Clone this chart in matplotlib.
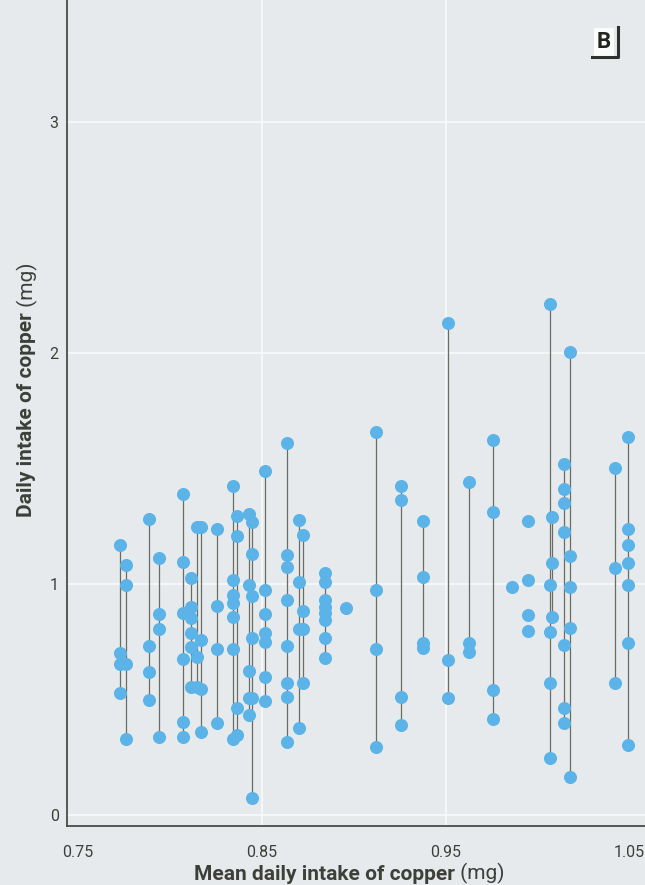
import matplotlib
matplotlib.use("Agg")
import matplotlib.pyplot as plt
from matplotlib.lines import Line2D

plt.rcParams['font.family'] = ['Roboto', 'DejaVu Sans']

# Mean daily copper intake per individual (mg)
mean_intake = [
    0.7729, 0.7761, 0.7886, 0.7941, 0.8071, 0.8115, 0.8147, 0.8169, 0.8256,
    0.8343, 0.8365, 0.8430, 0.8447, 0.8517, 0.8637, 0.8702, 0.8724, 0.8844,
    0.8958, 0.9121, 0.9257, 0.9377, 0.9513, 0.9627, 0.9758, 0.9861,
    0.9948, 0.9948, 0.9948, 0.9948,
    1.0068, 1.0079, 1.0144, 1.0177, 1.0422, 1.0492,
]

# Single-day copper intakes for each individual (mg)
daily_intake = [
    [1.169, 0.701, 0.654, 0.528],
    [1.082, 0.996, 0.654, 0.329],
    [1.281, 0.732, 0.619, 0.498],
    [1.113, 0.870, 0.805, 0.338],
    [1.390, 1.095, 0.874, 0.675, 0.403, 0.338],
    [1.026, 0.900, 0.853, 0.788, 0.727, 0.554],
    [1.247, 0.684, 0.554],
    [1.247, 0.758, 0.545, 0.359],
    [1.238, 0.905, 0.719, 0.398],
    [1.424, 1.017, 0.952, 0.918, 0.857, 0.719, 0.329],
    [1.294, 1.208, 0.463, 0.346],
    [1.303, 0.996, 0.623, 0.506, 0.433],
    [1.268, 1.130, 0.948, 0.766, 0.506, 0.074],
    [1.489, 0.974, 0.870, 0.788, 0.749, 0.597, 0.494],
    [1.610, 1.126, 1.074, 0.931, 0.732, 0.571, 0.511, 0.316],
    [1.277, 1.009, 0.805, 0.377],
    [1.212, 0.883, 0.805, 0.571],
    [1.048, 1.009, 0.931, 0.900, 0.874, 0.844, 0.766, 0.680],
    [0.896],
    [1.658, 0.974, 0.719, 0.294],
    [1.424, 1.364, 0.511, 0.390],
    [1.273, 1.030, 0.745, 0.723],
    [2.130, 0.671, 0.506],
    [1.442, 0.745, 0.706],
    [1.623, 1.312, 0.541, 0.416],
    [0.987],
    [1.273], [1.017], [0.866], [0.797],
    [2.212, 0.996, 0.793, 0.571, 0.247],
    [1.290, 1.091, 0.857],
    [1.519, 1.411, 1.351, 1.225, 0.736, 0.463, 0.398],
    [2.004, 1.121, 0.987, 0.810, 0.165],
    [1.502, 1.069, 0.571],
    [1.636, 1.238, 1.169, 1.091, 0.996, 0.745, 0.303],
]

x_ticks = [0.75, 0.85, 0.95, 1.05]
x_tick_labels = ["0.75", "0.85", "0.95", "1.05"]
y_ticks = [0, 1, 2, 3]
y_tick_labels = ["0", "1", "2", "3"]

W, H = 645, 885
bg = "#e7eaec"
ink = "#3d4039"
dot = "#5cb3e8"
stem = "#6a6c64"

fig = plt.figure(figsize=(W / 100, H / 100), dpi=100, facecolor=bg)
ax = fig.add_axes([67 / W, (H - 826) / H, 1 - 67 / W, 826 / H])
ax.set_facecolor(bg)

ax.set_xlim(0.744, 1.0585)
ax.set_ylim(-0.048, 3.528)

# light grid
for gy in y_ticks:
    ax.axhline(gy, color="#f6f8f9", lw=1.3, zorder=0)
for gx in [0.85, 0.95]:
    ax.axvline(gx, color="#f6f8f9", lw=1.3, zorder=0)

# one vertical stem per individual joining the daily values
for xm, vals in zip(mean_intake, daily_intake):
    if len(vals) > 1:
        ax.plot([xm, xm], [min(vals), max(vals)], color=stem, lw=0.9, zorder=2)
    ax.plot([xm] * len(vals), vals, linestyle="none", marker="o",
            markersize=9.4, markerfacecolor=dot, markeredgecolor="none", zorder=3)

for side in ("top", "right"):
    ax.spines[side].set_visible(False)
for side in ("left", "bottom"):
    ax.spines[side].set_color("#4a4d46")
    ax.spines[side].set_linewidth(1.3)

ax.set_xticks(x_ticks)
ax.set_xticklabels(x_tick_labels)
ax.set_yticks(y_ticks)
ax.set_yticklabels(y_tick_labels)
ax.tick_params(axis="both", length=0, labelsize=11.5, colors=ink)
ax.tick_params(axis="x", pad=14)
ax.tick_params(axis="y", pad=6)

# axis titles: bold name followed by regular unit
xt = fig.text(455 / W, 1 - 880 / H, "Mean daily intake of copper", fontsize=15,
              fontweight="bold", color=ink, ha="right", va="baseline")
ax.annotate(" (mg)", xy=(1, 0), xycoords=xt, fontsize=15, color=ink,
            ha="left", va="bottom", annotation_clip=False)

yt = fig.text(27 / W, 1 - 517 / H, "Daily intake of copper", fontsize=15,
              fontweight="bold", color=ink, ha="center", va="bottom", rotation=90)
ax.annotate(" (mg)", xy=(0.5, 1), xycoords=yt, fontsize=15, color=ink,
            ha="center", va="bottom", rotation=90, annotation_clip=False)

# panel tag with corner bracket
fig.text(604 / W, 1 - 42 / H, "B", fontsize=16, fontweight="bold", color="#23251f",
         ha="center", va="center", zorder=5,
         bbox=dict(boxstyle="square,pad=0.15", facecolor="#fbfcfc", edgecolor="none"))
fig.add_artist(Line2D([592 / W, 618 / W, 618 / W],
                      [1 - 57 / H, 1 - 57 / H, 1 - 27 / H],
                      transform=fig.transFigure, color="#2f312c", lw=2.2, zorder=10))

fig.savefig("out.png", dpi=100, facecolor=bg)
